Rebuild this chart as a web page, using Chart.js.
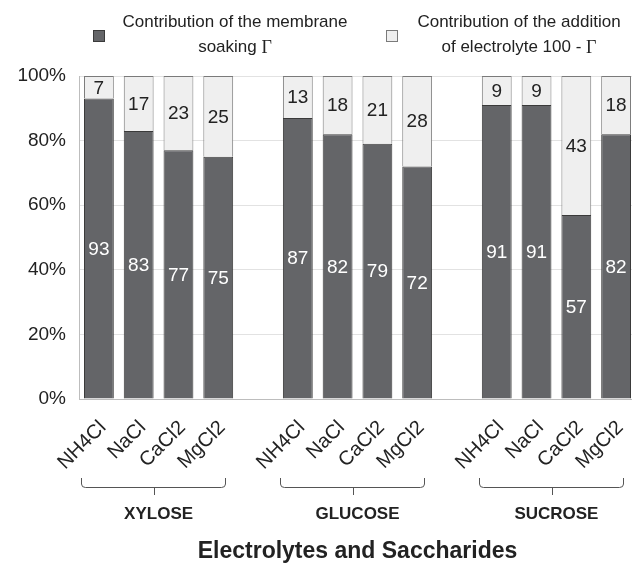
<!DOCTYPE html>
<html>
<head>
<meta charset="utf-8">
<script src="https://cdn.jsdelivr.net/npm/chart.js@4.4.0/dist/chart.umd.min.js"></script>
<style>
  html, body { margin: 0; padding: 0; background: #fff; overflow: hidden; }
</style>
</head>
<body>
<canvas id="chart" width="640" height="563"></canvas>
<script>
const electrolytes = ['NH4Cl', 'NaCl', 'CaCl2', 'MgCl2'];
const saccharides = ['XYLOSE', 'GLUCOSE', 'SUCROSE'];
const soaking = [93, 83, 77, 75, 87, 82, 79, 72, 91, 91, 57, 82];
const addition = [7, 17, 23, 25, 13, 18, 21, 28, 9, 9, 43, 18];
const yTicks = [0, 20, 40, 60, 80, 100];
const legendLines = [
    ['Contribution of the membrane', 'soaking Γ'],
    ['Contribution of the addition', 'of electrolyte 100 - Γ']
];
const axisTitle = 'Electrolytes and Saccharides';

const SANS = '"Liberation Sans", Arial, sans-serif';
const SERIF = '"Liberation Serif", "Times New Roman", serif';
const DARK = '#646568';
const LIGHT = '#efefef';

// one empty slot between saccharide groups
const labels = [];
const soakData = [];
const addData = [];
const groups = [];
saccharides.forEach(function (sac, g) {
    if (g > 0) {
        labels.push('');
        soakData.push(null);
        addData.push(null);
    }
    const first = labels.length;
    electrolytes.forEach(function (el, k) {
        labels.push(el);
        soakData.push(soaking[g * electrolytes.length + k]);
        addData.push(addition[g * electrolytes.length + k]);
    });
    groups.push({ name: sac, first: first, last: labels.length - 1 });
});

const valueLabels = {
    id: 'valueLabels',
    afterDatasetsDraw: function (chart) {
        const ctx = chart.ctx;
        ctx.save();
        ctx.font = '19px ' + SANS;
        ctx.textAlign = 'center';
        ctx.textBaseline = 'middle';
        chart.data.datasets.forEach(function (ds, i) {
            const meta = chart.getDatasetMeta(i);
            ctx.fillStyle = i === 0 ? '#ffffff' : '#222222';
            meta.data.forEach(function (bar, j) {
                const v = ds.data[j];
                if (v === null) return;
                const p = bar.getProps(['x', 'y', 'base'], true);
                ctx.fillText(String(v), p.x, (p.y + p.base) / 2 + 1);
            });
        });
        ctx.restore();
    }
};

const groupBrackets = {
    id: 'groupBrackets',
    afterDraw: function (chart) {
        const ctx = chart.ctx;
        const xs = chart.scales.x;
        ctx.save();
        ctx.strokeStyle = '#555';
        ctx.lineWidth = 1;
        ctx.fillStyle = '#222';
        ctx.font = 'bold 17px ' + SANS;
        ctx.textAlign = 'center';
        ctx.textBaseline = 'middle';
        groups.forEach(function (g) {
            const a = xs.getPixelForValue(g.first);
            const b = xs.getPixelForValue(g.last);
            const left = Math.round(a - 18) + 0.5;
            const right = Math.round(b + 7) + 0.5;
            const mid = Math.round((left + right) / 2) + 0.5;
            ctx.beginPath();
            ctx.moveTo(left, 478);
            ctx.lineTo(left, 484);
            ctx.quadraticCurveTo(left, 487.5, left + 4, 487.5);
            ctx.lineTo(right - 4, 487.5);
            ctx.quadraticCurveTo(right, 487.5, right, 484);
            ctx.lineTo(right, 478);
            ctx.moveTo(mid, 487.5);
            ctx.lineTo(mid, 495);
            ctx.stroke();
            ctx.fillText(g.name, (a + b) / 2, 514);
        });
        ctx.restore();
    }
};

const topLegend = {
    id: 'topLegend',
    afterDraw: function (chart) {
        const ctx = chart.ctx;
        const boxes = [{ x: 93, c: 235 }, { x: 386, c: 519 }];
        ctx.save();
        chart.data.datasets.forEach(function (ds, i) {
            const b = boxes[i];
            ctx.fillStyle = ds.backgroundColor;
            ctx.strokeStyle = ds.borderColor;
            ctx.lineWidth = 1;
            ctx.fillRect(b.x + 0.5, 30.5, 11, 11);
            ctx.strokeRect(b.x + 0.5, 30.5, 11, 11);
            ctx.fillStyle = '#222';
            ctx.textBaseline = 'middle';
            ctx.textAlign = 'left';
            legendLines[i].forEach(function (line, r) {
                const y = 22 + r * 25;
                let head = line;
                let tail = '';
                if (line.endsWith('Γ')) {
                    head = line.slice(0, -1);
                    tail = 'Γ';
                }
                ctx.font = '17px ' + SANS;
                const w1 = ctx.measureText(head).width;
                ctx.font = '18px ' + SERIF;
                const w2 = tail ? ctx.measureText(tail).width : 0;
                const x0 = b.c - (w1 + w2) / 2;
                ctx.font = '17px ' + SANS;
                ctx.fillText(head, x0, y);
                if (tail) {
                    ctx.font = '18px ' + SERIF;
                    ctx.fillText(tail, x0 + w1, y + 1);
                }
            });
        });
        ctx.restore();
    }
};

const ctx = document.getElementById('chart').getContext('2d');
new Chart(ctx, {
    type: 'bar',
    data: {
        labels: labels,
        datasets: [
            {
                label: legendLines[0].join(' '),
                data: soakData,
                backgroundColor: DARK,
                borderColor: '#3a3a3a',
                borderWidth: 1,
                barPercentage: 0.75,
                categoryPercentage: 1
            },
            {
                label: legendLines[1].join(' '),
                data: addData,
                backgroundColor: LIGHT,
                borderColor: '#7a7a7a',
                borderWidth: 1,
                barPercentage: 0.75,
                categoryPercentage: 1
            }
        ]
    },
    options: {
        responsive: false,
        animation: false,
        layout: { padding: { top: 76, right: 4, left: 0, bottom: 0 } },
        plugins: {
            legend: { display: false },
            tooltip: { enabled: false }
        },
        scales: {
            x: {
                stacked: true,
                grid: { display: false, drawTicks: false },
                border: { display: true, color: '#bdbdbd' },
                ticks: {
                    autoSkip: false,
                    minRotation: 45,
                    maxRotation: 45,
                    padding: 17,
                    labelOffset: 4,
                    color: '#222',
                    font: { family: SANS, size: 20 }
                },
                title: {
                    display: true,
                    text: axisTitle,
                    color: '#222',
                    font: { family: SANS, size: 23, weight: 'bold' },
                    padding: { top: 0, bottom: -2 }
                },
                afterFit: function (scale) {
                    scale.height = 164;
                    scale.paddingLeft = 0;
                    scale.paddingRight = 0;
                }
            },
            y: {
                stacked: true,
                min: 0,
                max: 100,
                afterBuildTicks: function (scale) {
                    scale.ticks = yTicks.map(function (v) { return { value: v }; });
                },
                grid: { color: '#e2e2e2', drawTicks: false },
                border: { display: true, color: '#bdbdbd' },
                ticks: {
                    padding: 13,
                    color: '#222',
                    font: { family: SANS, size: 19 },
                    callback: function (v) { return v + '%'; }
                },
                afterFit: function (scale) { scale.width = 79; }
            }
        }
    },
    plugins: [valueLabels, groupBrackets, topLegend]
});
</script>
</body>
</html>
